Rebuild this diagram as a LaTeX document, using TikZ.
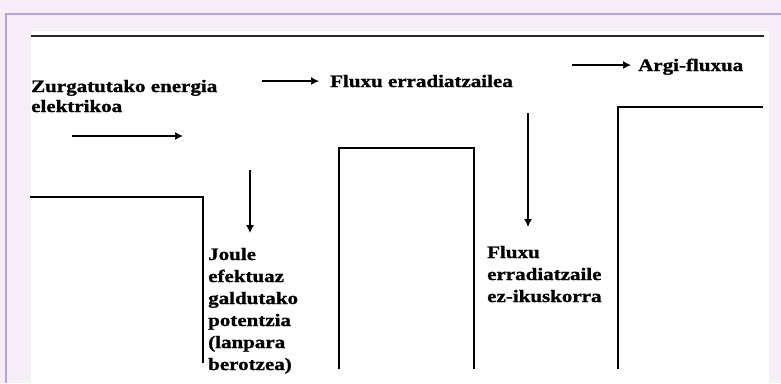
\documentclass[tikz,border=0pt]{standalone}
\usepackage{fontspec}
\setmainfont{Liberation Serif}
\newfontfamily\labfont[FakeStretch=1.2,FakeBold=1.2]{Liberation Serif}
\usetikzlibrary{arrows.meta}
\definecolor{bgl}{HTML}{F5EEF6}
\definecolor{bord}{HTML}{B8A4D4}
\begin{document}
\begin{tikzpicture}[x=1pt,y=-1pt,
  lab/.style={font=\labfont\bfseries\fontsize{17.5}{22}\selectfont, inner sep=0pt, anchor=base west, align=left},
  flow/.style={line width=1.4pt, line cap=rect},
  arr/.style={line width=1.2pt, -{Latex[length=8pt,width=8pt]}}]
\useasboundingbox (0,0) rectangle (781,383);
\fill[bgl] (0,0) rectangle (781,383);
\draw[bord, line width=1.5pt] (6,383) -- (6,14) -- (781,14);
\fill[white] (31,31) rectangle (769,383);
\draw[line width=2.6pt, black!85] (31,36) -- (764,36);
% flow shapes
\draw[flow] (31,197) -- (203,197) -- (203,362);
\draw[flow] (339,368) -- (339,148) -- (474,148) -- (474,368);
\draw[flow] (618,368) -- (618,107) -- (762,107);
% labels (base anchor = baseline of the last line)
\node[lab] (abs) at (31,112) {Zurgatutako energia\\[-2pt]elektrikoa};
\node[lab] (rad) at (330,87) {Fluxu erradiatzailea};
\node[lab] (light) at (638,71) {Argi-fluxua};
\node[lab] (joule) at (208,370) {Joule\\efektuaz\\galdutako\\potentzia\\(lanpara\\berotzea)};
\node[lab] (ir) at (487,302) {Fluxu\\erradiatzaile\\ez-ikuskorra};
% arrows
\coordinate (a1s) at (72,136); \coordinate (a1e) at (183,136);
\coordinate (a2s) at (262,81); \coordinate (a2e) at (319,81);
\coordinate (a3s) at (572,65); \coordinate (a3e) at (631,65);
\coordinate (d1s) at (250,170); \coordinate (d1e) at (250,233);
\coordinate (d2s) at (528,113); \coordinate (d2e) at (528,227);
\draw[arr] (a1s) -- (a1e);
\draw[arr] (a2s) -- (a2e);
\draw[arr] (a3s) -- (a3e);
\draw[arr] (d1s) -- (d1e);
\draw[arr] (d2s) -- (d2e);
\end{tikzpicture}
\end{document}
